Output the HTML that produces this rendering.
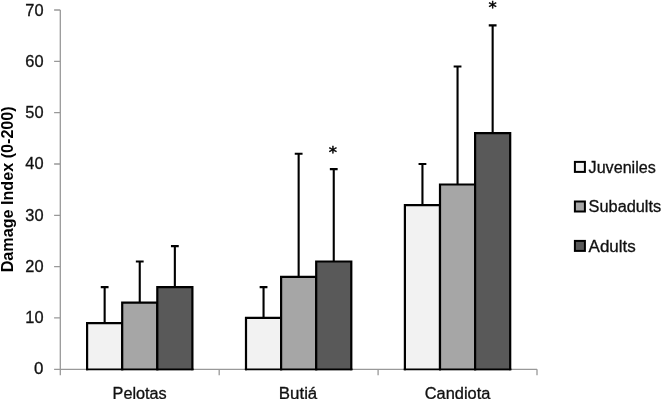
<!DOCTYPE html>
<html lang="en"><head><meta charset="utf-8"><title>Damage Index</title>
<style>html,body{margin:0;padding:0;background:#fff}svg{display:block;filter:blur(0.35px)}text{font-family:"Liberation Sans",sans-serif;fill:#111;stroke:#111;stroke-width:0.3}</style></head><body>
<svg width="662" height="399" viewBox="0 0 662 399">
<rect width="662" height="399" fill="#fff"/>
<path d="M60.3 9.99V375.30M54.10 369.3H537.00M54.10 317.97H60.3M54.10 266.64H60.3M54.10 215.31H60.3M54.10 163.98H60.3M54.10 112.65H60.3M54.10 61.32H60.3M54.10 9.99H60.3M219.20 369.3V375.30M378.10 369.3V375.30M537.00 369.3V375.30" stroke="#999" stroke-width="1.3" fill="none"/>
<path d="M87.10 370.15V323.10H122.20V370.15" fill="#f2f2f2" stroke="#000" stroke-width="2.2"/>
<path d="M122.20 370.15V302.57H157.30V370.15" fill="#a6a6a6" stroke="#000" stroke-width="2.2"/>
<path d="M157.30 370.15V287.17H192.40V370.15" fill="#595959" stroke="#000" stroke-width="2.2"/>
<path d="M86.00 369.3H193.50" stroke="#000" stroke-width="1.7" fill="none"/>
<path d="M104.65 323.10V287.17M100.75 287.17H108.55" stroke="#000" stroke-width="2.1" fill="none"/>
<path d="M139.75 302.57V261.51M135.85 261.51H143.65" stroke="#000" stroke-width="2.1" fill="none"/>
<path d="M174.85 287.17V246.11M170.95 246.11H178.75" stroke="#000" stroke-width="2.1" fill="none"/>
<path d="M246.00 370.15V317.97H281.10V370.15" fill="#f2f2f2" stroke="#000" stroke-width="2.2"/>
<path d="M281.10 370.15V276.91H316.20V370.15" fill="#a6a6a6" stroke="#000" stroke-width="2.2"/>
<path d="M316.20 370.15V261.51H351.30V370.15" fill="#595959" stroke="#000" stroke-width="2.2"/>
<path d="M244.90 369.3H352.40" stroke="#000" stroke-width="1.7" fill="none"/>
<path d="M263.55 317.97V287.17M259.65 287.17H267.45" stroke="#000" stroke-width="2.1" fill="none"/>
<path d="M298.65 276.91V153.71M294.75 153.71H302.55" stroke="#000" stroke-width="2.1" fill="none"/>
<path d="M333.75 261.51V169.11M329.85 169.11H337.65" stroke="#000" stroke-width="2.1" fill="none"/>
<path d="M404.90 370.15V205.04H440.00V370.15" fill="#f2f2f2" stroke="#000" stroke-width="2.2"/>
<path d="M440.00 370.15V184.51H475.10V370.15" fill="#a6a6a6" stroke="#000" stroke-width="2.2"/>
<path d="M475.10 370.15V133.18H510.20V370.15" fill="#595959" stroke="#000" stroke-width="2.2"/>
<path d="M403.80 369.3H511.30" stroke="#000" stroke-width="1.7" fill="none"/>
<path d="M422.45 205.04V163.98M418.55 163.98H426.35" stroke="#000" stroke-width="2.1" fill="none"/>
<path d="M457.55 184.51V66.45M453.65 66.45H461.45" stroke="#000" stroke-width="2.1" fill="none"/>
<path d="M492.65 133.18V25.39M488.75 25.39H496.55" stroke="#000" stroke-width="2.1" fill="none"/>
<text x="43.5" y="374.30" font-size="16" text-anchor="end" textLength="9.4" lengthAdjust="spacingAndGlyphs">0</text>
<text x="43.5" y="323.37" font-size="16" text-anchor="end" textLength="18.2" lengthAdjust="spacingAndGlyphs">10</text>
<text x="43.5" y="272.04" font-size="16" text-anchor="end" textLength="18.2" lengthAdjust="spacingAndGlyphs">20</text>
<text x="43.5" y="220.71" font-size="16" text-anchor="end" textLength="18.2" lengthAdjust="spacingAndGlyphs">30</text>
<text x="43.5" y="169.38" font-size="16" text-anchor="end" textLength="18.2" lengthAdjust="spacingAndGlyphs">40</text>
<text x="43.5" y="118.05" font-size="16" text-anchor="end" textLength="18.2" lengthAdjust="spacingAndGlyphs">50</text>
<text x="43.5" y="66.72" font-size="16" text-anchor="end" textLength="18.2" lengthAdjust="spacingAndGlyphs">60</text>
<text x="43.5" y="16.19" font-size="16" text-anchor="end" textLength="18.2" lengthAdjust="spacingAndGlyphs">70</text>
<text x="139.65" y="398.6" font-size="16" text-anchor="middle" textLength="54.2" lengthAdjust="spacingAndGlyphs">Pelotas</text>
<text x="298.05" y="398.6" font-size="16" text-anchor="middle" textLength="38.4" lengthAdjust="spacingAndGlyphs">Butiá</text>
<text x="457.55" y="398.6" font-size="16" text-anchor="middle" textLength="65.6" lengthAdjust="spacingAndGlyphs">Candiota</text>
<text transform="translate(13.2 189.3) rotate(-90)" font-size="16" font-weight="bold" text-anchor="middle" textLength="166" lengthAdjust="spacingAndGlyphs" style="fill:#000;stroke:none">Damage Index (0-200)</text>
<text x="332.9" y="158.0" font-size="16.5" text-anchor="middle" style="font-family:'DejaVu Sans',sans-serif;fill:#000;stroke:#000;stroke-width:0.5">*</text>
<text x="492.5" y="12.7" font-size="16.5" text-anchor="middle" style="font-family:'DejaVu Sans',sans-serif;fill:#000;stroke:#000;stroke-width:0.5">*</text>
<rect x="574.9" y="161.90" width="10" height="10" fill="#f2f2f2" stroke="#000" stroke-width="2"/>
<text x="588.6" y="172.60" font-size="16" textLength="67.2" lengthAdjust="spacingAndGlyphs">Juveniles</text>
<rect x="574.9" y="201.50" width="10" height="10" fill="#a6a6a6" stroke="#000" stroke-width="2"/>
<text x="588.6" y="212.20" font-size="16" textLength="72.6" lengthAdjust="spacingAndGlyphs">Subadults</text>
<rect x="574.9" y="240.90" width="10" height="10" fill="#595959" stroke="#000" stroke-width="2"/>
<text x="588.6" y="251.60" font-size="16" textLength="47.2" lengthAdjust="spacingAndGlyphs">Adults</text>
</svg></body></html>
